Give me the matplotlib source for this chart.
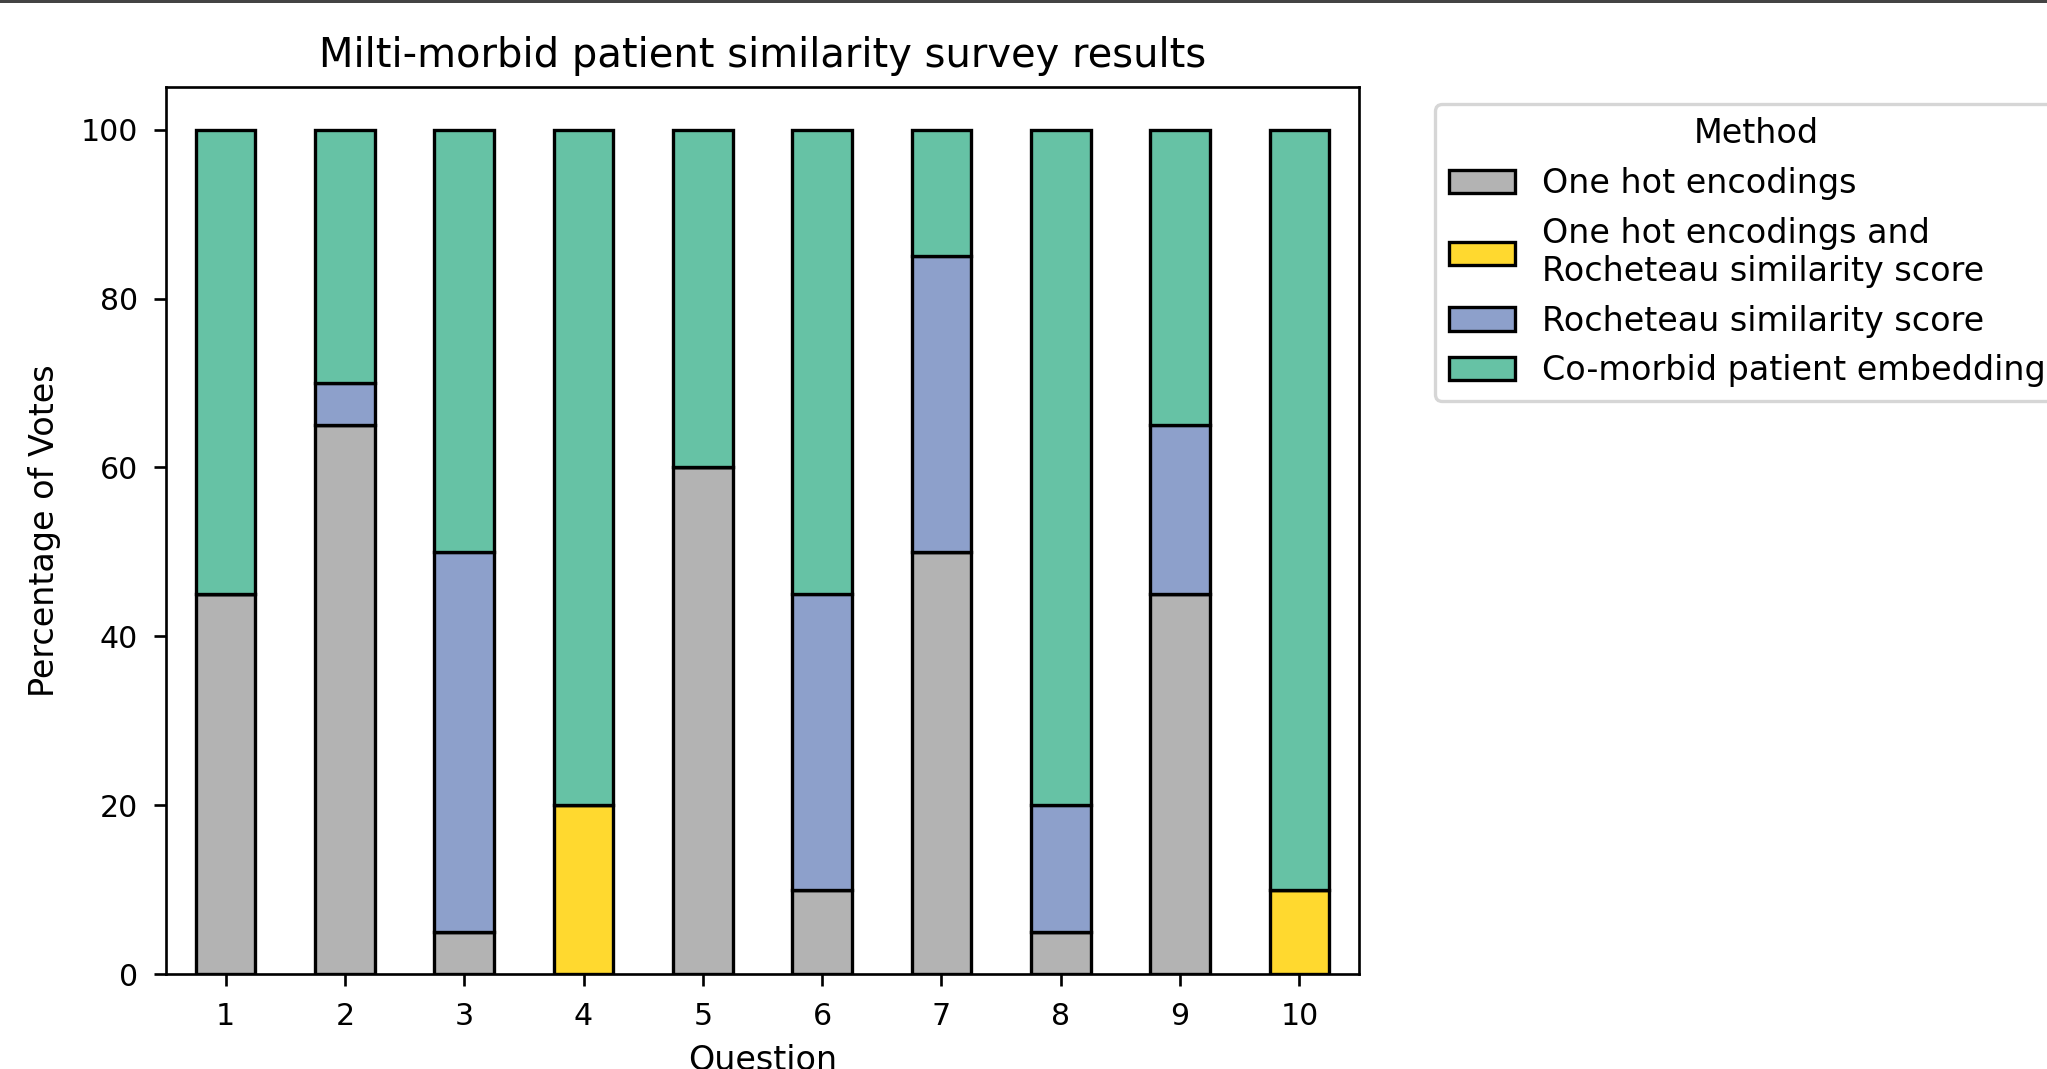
import matplotlib
matplotlib.use('Agg')
import matplotlib.pyplot as plt
import numpy as np
from matplotlib.patches import Rectangle

# Datos de la encuesta (porcentaje de votos por pregunta)
preguntas = ["1", "2", "3", "4", "5", "6", "7", "8", "9", "10"]
metodos = ["One hot encodings",
           "One hot encodings and\nRocheteau similarity score",
           "Rocheteau similarity score",
           "Co-morbid patient embeddings"]
one_hot = [45, 65, 5, 0, 60, 10, 50, 5, 45, 0]
one_hot_roch = [0, 0, 0, 20, 0, 0, 0, 0, 0, 10]
rocheteau = [0, 5, 45, 0, 0, 35, 35, 15, 20, 0]
comorbid = [55, 30, 50, 80, 40, 55, 15, 80, 35, 90]

colores = ["#b3b3b3", "#ffd92f", "#8da0cb", "#66c2a5"]

dpi = 240
fig = plt.figure(figsize=(2047 / dpi, 1069 / dpi), dpi=dpi)
ax = fig.add_axes([166 / 2047, 95 / 1069, 1193 / 2047, 886.5 / 1069])

# Barras apiladas
x = np.arange(len(preguntas))
base = np.zeros(len(preguntas))
for serie, nombre, color in zip([one_hot, one_hot_roch, rocheteau, comorbid], metodos, colores):
    ax.bar(x, serie, width=0.5, bottom=base, color=color, edgecolor="black", label=nombre)
    base = base + np.array(serie)

ax.set_xticks(x)
ax.set_xticklabels(preguntas, rotation=0)
ax.set_xlim(-0.5, len(preguntas) - 0.5)
ax.tick_params(labelsize=9, length=3.6, pad=4.8)
ax.set_title("Milti-morbid patient similarity survey results", fontsize=12)
ax.set_xlabel("Question", fontsize=10)
ax.set_ylabel("Percentage of Votes", fontsize=10, labelpad=6)
ax.legend(title="Method", bbox_to_anchor=(1.05, 1), loc="upper left", fontsize=10, title_fontsize=10)

# Franja oscura de la captura
fig.patches.append(Rectangle((0, 1 - 3 / 1069), 1, 3 / 1069, transform=fig.transFigure,
                             facecolor="#444444", edgecolor="none"))

fig.savefig("out.png", dpi=dpi)
